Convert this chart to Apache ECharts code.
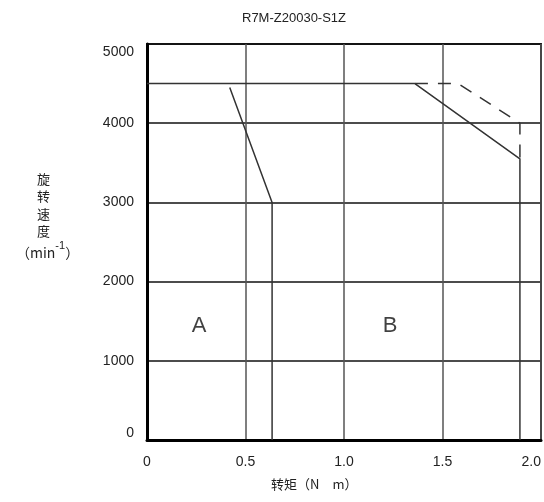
<!DOCTYPE html>
<html>
<head>
    <meta charset="UTF-8">
    <title>R7M-Z20030-S1Z</title>
    <script type="text/javascript" src="https://cdn.jsdelivr.net/npm/echarts@6/dist/echarts.min.js"></script>
    <style type="text/css">
        body { margin: 0; background: #fff; }
        #chart { width: 544px; height: 502px; }
    </style>
</head>
<body>
<div id="chart"></div>
<script type="text/javascript">
    // 区域A 曲线
    var torqueA = [0.42, 0.635, 0.635];
    var speedA = [4450, 3000, 0];
    // 区域B 连续
    var torqueB = [0, 1.36, 1.893, 1.893];
    var speedB = [4500, 4500, 3550, 0];
    // 区域B 瞬时 (虚线)
    var torqueBDash = [1.36, 1.58, 1.893, 1.893];
    var speedBDash = [4500, 4500, 4000, 3550];
    // 区域标签
    var regionNames = ['A', 'B'];
    var regionX = [0.264, 1.234];
    var regionY = [1440, 1440];

    function pairs(xs, ys) {
        var out = [];
        for (var i = 0; i < xs.length; i++) out.push([xs[i], ys[i]]);
        return out;
    }
    var font = '"Liberation Sans", Arial, sans-serif';
    var cjk = '"Noto Sans CJK SC", sans-serif';
    var lineStyle = { color: '#333', width: 1.5 };

    var chart = echarts.init(document.getElementById('chart'));
    chart.setOption({
        animation: false,
        title: {
            text: 'R7M-Z20030-S1Z',
            left: 237, top: 7,
            textStyle: { fontSize: 13, fontWeight: 'normal', color: '#222', fontFamily: font }
        },
        grid: {
            left: 147, right: 3, top: 44, bottom: 62,
            show: true, borderColor: '#222', borderWidth: 2
        },
        xAxis: {
            type: 'value', min: 0, max: 2, interval: 0.5,
            axisLine: { lineStyle: { color: '#000', width: 3 } },
            axisTick: { show: false },
            axisLabel: {
                color: '#222', fontSize: 14, fontFamily: font, margin: 15,
                alignMaxLabel: 'right',
                formatter: function (v) { return v === 0 ? '0' : v.toFixed(1); }
            },
            splitLine: { lineStyle: { color: '#555', width: 1.5 } }
        },
        yAxis: {
            type: 'value', min: 0, max: 5000, interval: 1000,
            axisLine: { show: true, lineStyle: { color: '#000', width: 3 } },
            axisTick: { show: false },
            axisLabel: {
                color: '#222', fontSize: 14, fontFamily: font, margin: 13,
                formatter: function (v) {
                    if (v === 5000) return '{t|5000}';
                    if (v === 0) return '{b|0}';
                    return v;
                },
                rich: {
                    t: { fontSize: 14, fontFamily: font, color: '#222', padding: [16, 0, 0, 0] },
                    b: { fontSize: 14, fontFamily: font, color: '#222', padding: [0, 0, 14, 0] }
                }
            },
            splitLine: { lineStyle: { color: '#111', width: 1.5 } }
        },
        graphic: [
            {
                type: 'text', left: 37, top: 170,
                style: {
                    text: '旋\n转\n速\n度',
                    font: '13px ' + cjk, fill: '#222', lineHeight: 17.5
                }
            },
            {
                type: 'text', left: 16, top: 240,
                style: {
                    text: '{a|（min}{s|-1}{a|）}',
                    rich: {
                        a: { font: '14px ' + cjk, fill: '#222', verticalAlign: 'bottom' },
                        s: { font: '11px ' + font, fill: '#222', verticalAlign: 'top', padding: [0, 0, 9, 0] }
                    }
                }
            },
            {
                type: 'text', left: 271, top: 478,
                style: { text: '转矩（N　m）', font: '13px ' + cjk, fill: '#222' }
            }
        ],
        series: [
            {
                type: 'line', data: pairs(torqueB, speedB), symbol: 'none',
                lineStyle: lineStyle, z: 3
            },
            {
                type: 'line', data: pairs(torqueBDash, speedBDash), symbol: 'none',
                lineStyle: { color: '#333', width: 1.5, type: [13, 10] }, z: 3
            },
            {
                type: 'line', data: pairs(torqueA, speedA), symbol: 'none',
                lineStyle: lineStyle, z: 3
            },
            {
                type: 'scatter', symbolSize: 0,
                data: regionNames.map(function (n, i) { return { value: [regionX[i], regionY[i]], name: n }; }),
                label: {
                    show: true, position: 'inside', formatter: '{b}',
                    fontSize: 22, fontFamily: font, color: '#111'
                }
            }
        ]
    });
</script>
</body>
</html>
